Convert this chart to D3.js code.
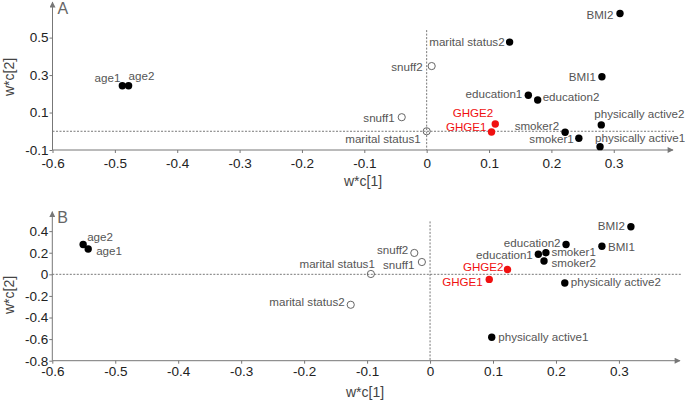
<!DOCTYPE html>
<html>
<head>
<meta charset="utf-8">
<script src="https://cdn.jsdelivr.net/npm/d3@7"></script>
<style>
  body { margin: 0; background: #fff; }
  svg { font-family: "Liberation Sans", Arial, sans-serif; }
</style>
</head>
<body>
<svg id="chart"></svg>
<script>
var width = 685;
var height = 400;

// variables plotted in both panels
var names = ["age1", "age2", "snuff1", "snuff2", "marital status1", "marital status2",
             "education1", "education2", "BMI1", "BMI2", "smoker1", "smoker2",
             "physically active1", "physically active2", "GHGE1", "GHGE2"];

// panel A loadings
var xA = [-0.488, -0.478, -0.040, 0.008, 0.000, 0.133,
          0.163, 0.178, 0.281, 0.310, 0.244, 0.222,
          0.278, 0.280, 0.104, 0.110];
var yA = [0.243, 0.243, 0.075, 0.348, 0.000, 0.476,
          0.192, 0.167, 0.291, 0.629, -0.037, -0.005,
          -0.082, 0.034, -0.004, 0.039];

// panel B loadings
var xB = [-0.543, -0.551, -0.013, -0.025, -0.094, -0.126,
          0.172, 0.216, 0.273, 0.319, 0.184, 0.181,
          0.098, 0.214, 0.094, 0.123];
var yB = [0.235, 0.276, 0.114, 0.198, 0.003, -0.282,
          0.186, 0.276, 0.260, 0.440, 0.200, 0.124,
          -0.583, -0.081, -0.047, 0.044];

var openA = ["snuff1", "snuff2", "marital status1"];
var openB = ["snuff1", "snuff2", "marital status1", "marital status2"];
var responses = ["GHGE1", "GHGE2"];

var xTicks = [-0.6, -0.5, -0.4, -0.3, -0.2, -0.1, 0, 0.1, 0.2, 0.3];
var yTicksA = [-0.1, 0.1, 0.3, 0.5];
var yTicksB = [-0.8, -0.6, -0.4, -0.2, 0, 0.2, 0.4];

// label placement: [anchor, dx, dy]
var labelsA = {
  "age1": ["end", -2, -3.5], "age2": ["start", 0, -6],
  "snuff1": ["end", -7, 5], "snuff2": ["end", -9, 5],
  "marital status1": ["end", -6, 12], "marital status2": ["end", -5, 4],
  "education1": ["end", -6, 2.5], "education2": ["start", 5, 1],
  "BMI1": ["end", -6, 4], "BMI2": ["end", -6.5, 5.5],
  "smoker1": ["end", -5, 5], "smoker2": ["end", -6, -2.5],
  "physically active1": ["start", -5, -4.5], "physically active2": ["start", -7, -6.5],
  "GHGE1": ["end", -5, -1], "GHGE2": ["end", -2, -6.5]
};
var labelsB = {
  "age1": ["start", 8, 6], "age2": ["start", 4, -4],
  "snuff1": ["end", -7.5, 7], "snuff2": ["end", -6, 1],
  "marital status1": ["end", 4, -6], "marital status2": ["end", -6, 1.5],
  "education1": ["end", -5.5, 4.5], "education2": ["end", -5.5, 2.5],
  "BMI1": ["start", 6, 5], "BMI2": ["end", -6, 3.5],
  "smoker1": ["start", 5.5, 2.8], "smoker2": ["start", 7.5, 6.5],
  "physically active1": ["start", 6.5, 4], "physically active2": ["start", 6, 3],
  "GHGE1": ["end", -6.5, 6.5], "GHGE2": ["end", -4, 1.5]
};

var svg = d3.select("#chart").attr("width", width).attr("height", height);

var defs = svg.append("defs");
defs.append("marker")
  .attr("id", "arrow")
  .attr("viewBox", "0 0 10 10")
  .attr("refX", 9).attr("refY", 5)
  .attr("markerWidth", 8).attr("markerHeight", 6)
  .attr("markerUnits", "userSpaceOnUse")
  .attr("orient", "auto")
  .append("path")
  .attr("d", "M0,0L10,5L0,10Z")
  .attr("fill", "#777");

function fmt(d) { return String(+d.toFixed(1)); }

function drawPanel(p) {
  var xScale = d3.scaleLinear().domain(p.xDomain).range(p.xRange);
  var yScale = d3.scaleLinear().domain(p.yDomain).range(p.yRange);
  var g = svg.append("g");

  var x0 = p.xRange[0], y0 = p.yRange[0];

  // dashed reference lines
  g.append("line")
    .attr("x1", x0).attr("x2", p.xRange[1] + 2)
    .attr("y1", yScale(0)).attr("y2", yScale(0))
    .attr("stroke", "#555").attr("stroke-dasharray", "2,1.5").attr("stroke-width", 0.8);
  g.append("line")
    .attr("x1", xScale(0)).attr("x2", xScale(0))
    .attr("y1", yScale(p.vTop)).attr("y2", y0)
    .attr("stroke", "#555").attr("stroke-dasharray", "2,1.5").attr("stroke-width", 0.8);

  // axes
  var xAxis = g.append("g")
    .attr("transform", "translate(0," + y0 + ")")
    .call(d3.axisBottom(xScale).tickValues(xTicks).tickFormat(fmt)
      .tickSize(3).tickPadding(p.xPad));
  var yAxis = g.append("g")
    .attr("transform", "translate(" + x0 + ",0)")
    .call(d3.axisLeft(yScale).tickValues(p.yTicks).tickFormat(fmt)
      .tickSize(3).tickPadding(1));
  [xAxis, yAxis].forEach(function(a) {
    a.select(".domain").remove();
    a.selectAll(".tick line").attr("stroke", "#777");
    a.selectAll(".tick text").attr("fill", "#222")
      .style("font-size", "13.5px").style("font-family", "Liberation Sans, Arial, sans-serif");
  });
  g.append("line")
    .attr("x1", x0).attr("x2", p.xRange[1])
    .attr("y1", y0).attr("y2", y0)
    .attr("stroke", "#777").attr("marker-end", "url(#arrow)");
  g.append("line")
    .attr("x1", x0).attr("x2", x0)
    .attr("y1", y0).attr("y2", p.yRange[1])
    .attr("stroke", "#777").attr("marker-end", "url(#arrow)");

  // titles
  g.append("text")
    .attr("x", x0 + 5).attr("y", p.letterY)
    .attr("fill", "#666").style("font-size", "16px").text(p.letter);
  g.append("text")
    .attr("x", p.xTitleX).attr("y", p.xTitleY)
    .attr("text-anchor", "middle").attr("fill", "#444")
    .style("font-size", "14px").text("w*c[1]");
  g.append("text")
    .attr("transform", "translate(14," + p.yTitleY + ") rotate(-90)")
    .attr("text-anchor", "middle").attr("fill", "#444")
    .style("font-size", "14px").text("w*c[2]");

  var pts = names.map(function(n, i) {
    return { name: n, x: p.xs[i], y: p.ys[i],
             open: p.open.indexOf(n) >= 0, red: responses.indexOf(n) >= 0 };
  });

  g.selectAll("circle.pt")
    .data(pts)
    .enter()
    .append("circle")
    .attr("class", "pt")
    .attr("cx", function(d) { return xScale(d.x); })
    .attr("cy", function(d) { return yScale(d.y); })
    .attr("r", function(d) { return d.open ? 3.6 : 3.7; })
    .attr("fill", function(d) { return d.open ? "none" : (d.red ? "#f01010" : "#000"); })
    .attr("stroke", function(d) { return d.open ? "#666" : "none"; })
    .attr("stroke-width", 1);

  g.selectAll("text.lbl")
    .data(pts)
    .enter()
    .append("text")
    .attr("class", "lbl")
    .attr("x", function(d) { return xScale(d.x) + p.labels[d.name][1]; })
    .attr("y", function(d) { return yScale(d.y) + p.labels[d.name][2]; })
    .attr("text-anchor", function(d) { return p.labels[d.name][0]; })
    .attr("fill", function(d) { return d.red ? "#f01010" : "#555"; })
    .style("font-size", "11.6px")
    .text(function(d) { return d.name; });
}

drawPanel({
  letter: "A", letterY: 14,
  xs: xA, ys: yA, open: openA, labels: labelsA,
  xDomain: [-0.6, 0.395], xRange: [52.5, 673],
  yDomain: [-0.1, 0.69], yRange: [150, 2],
  yTicks: yTicksA, xPad: 5, vTop: 0.54,
  xTitleX: 363, xTitleY: 186, yTitleY: 77
});

drawPanel({
  letter: "B", letterY: 223,
  xs: xB, ys: yB, open: openB, labels: labelsB,
  xDomain: [-0.6, 0.397], xRange: [52.3, 680],
  yDomain: [-0.8, 0.58], yRange: [360.7, 211.7],
  yTicks: yTicksB, xPad: 3, vTop: 0.49,
  xTitleX: 365, xTitleY: 397, yTitleY: 295
});
</script>
</body>
</html>
